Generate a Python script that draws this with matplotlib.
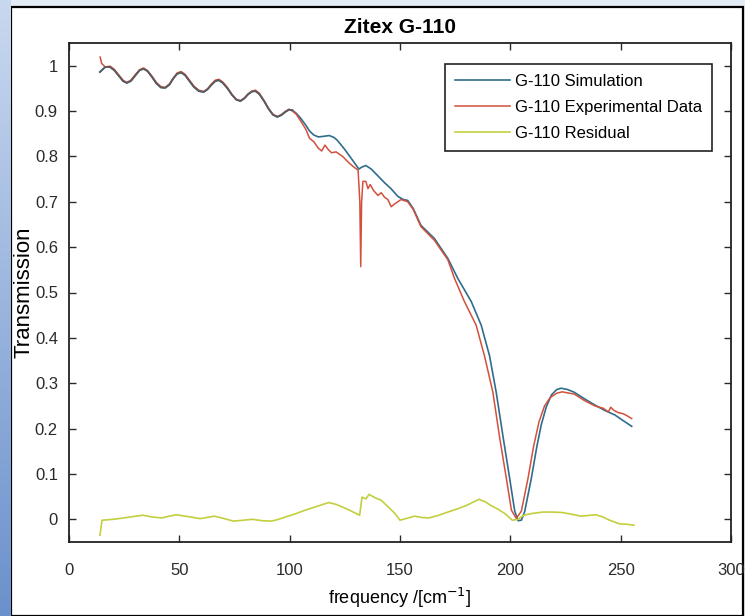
import numpy as np
import matplotlib.pyplot as plt
from matplotlib.patches import Rectangle
from matplotlib.colors import LinearSegmentedColormap

plt.rcParams['font.family'] = ['Liberation Sans', 'DejaVu Sans']

# ── Data ────────────────────────────────────────────────────────────────
sim_freq = [14.0, 16.4, 18.6, 20.5, 22.5, 24.5, 26.2, 28, 30, 32, 33.8, 35.6,
            37.6, 39.6, 41.6, 43.6, 45.5, 47.3, 49, 50.8, 52.6, 54.6, 56.6, 58.8,
            61, 62.8, 64.6, 66.3, 67.9, 69.7, 71.8, 73.8, 75.8, 77.7, 79.5, 81.2,
            82.9, 84.5, 86.3, 88.4, 90.4, 92.4, 94.4, 96.2, 98, 99.7, 101.2, 103,
            105, 107.3, 109, 111, 113, 115, 117.9, 120, 121.5, 124.7, 128, 131.4,
            132.5, 134.5, 137, 139.8, 143, 145.9, 149, 151.5, 153.5, 156, 159.5,
            165.6, 171.7, 176.2, 182.3, 186.8, 190.6, 193.6, 196.7, 199.7, 202,
            203.5, 205, 206.5, 209.5, 212, 214, 216.3, 218.6, 221, 223, 226, 229,
            233.5, 238.3, 242.8, 247.4, 251, 255]
sim_trans = [0.986, 0.997, 0.997, 0.99, 0.978, 0.966, 0.962, 0.966, 0.978, 0.99,
             0.993, 0.988, 0.975, 0.961, 0.952, 0.951, 0.958, 0.972, 0.982, 0.985,
             0.979, 0.966, 0.953, 0.944, 0.942, 0.948, 0.958, 0.966, 0.968, 0.962,
             0.95, 0.936, 0.925, 0.922, 0.928, 0.937, 0.943, 0.944, 0.937, 0.922,
             0.905, 0.892, 0.887, 0.891, 0.898, 0.903, 0.902, 0.895, 0.884, 0.869,
             0.856, 0.847, 0.843, 0.844, 0.846, 0.842, 0.836, 0.817, 0.795, 0.772,
             0.776, 0.78, 0.772, 0.758, 0.742, 0.729, 0.712, 0.705, 0.703, 0.685,
             0.648, 0.619, 0.575, 0.531, 0.48, 0.428, 0.36, 0.28, 0.182, 0.09,
             0.018, -0.003, -0.002, 0.017, 0.09, 0.16, 0.208, 0.248, 0.274, 0.286,
             0.289, 0.286, 0.28, 0.266, 0.252, 0.24, 0.23, 0.218, 0.205]

exp_freq = [14.1, 14.8, 16.4, 18.6, 20.5, 22.5, 24.5, 26.2, 28, 30, 32, 33.8,
            35.6, 37.6, 39.6, 41.6, 43.6, 45.5, 47.3, 49, 50.8, 52.6, 54.6, 56.6,
            58.8, 61, 62.8, 64.6, 66.3, 67.9, 69.7, 71.8, 73.8, 75.8, 77.7, 79.5,
            81.2, 82.9, 84.5, 86.3, 88.4, 90.4, 92.4, 94.4, 96.2, 98, 99.7, 101.2,
            103, 105, 107.3, 109, 111, 113, 114.5, 116, 117.5, 119, 121, 124, 127,
            129.5, 131, 131.8, 132.2, 132.6, 133.2, 134.5, 135.5, 136.5, 138, 140,
            141.5, 143, 144.5, 146, 147.5, 149, 150.5, 153.5, 156, 159.5, 165.6,
            171.7, 174.7, 179.2, 184.5, 188.3, 192.1, 195.1, 198.2, 200.5, 202.7,
            205, 208, 210.5, 213, 215.5, 218, 221, 223.5, 229, 233.5, 238.3, 242,
            244.4, 245.5, 247, 249, 251, 253, 255]
exp_trans = [1.019, 1.005, 0.997, 0.999, 0.992, 0.98, 0.968, 0.963, 0.968, 0.98,
             0.991, 0.995, 0.989, 0.977, 0.963, 0.954, 0.952, 0.96, 0.973, 0.984,
             0.987, 0.981, 0.968, 0.955, 0.946, 0.943, 0.949, 0.96, 0.968, 0.97,
             0.964, 0.952, 0.937, 0.926, 0.923, 0.929, 0.938, 0.944, 0.946, 0.939,
             0.923, 0.906, 0.893, 0.888, 0.892, 0.899, 0.904, 0.9, 0.893, 0.878,
             0.86, 0.84, 0.832, 0.818, 0.812, 0.825, 0.815, 0.808, 0.81, 0.8,
             0.785, 0.775, 0.77, 0.7, 0.557, 0.7, 0.745, 0.745, 0.729, 0.738,
             0.725, 0.714, 0.72, 0.71, 0.705, 0.689, 0.695, 0.7, 0.705, 0.7, 0.683,
             0.645, 0.615, 0.572, 0.531, 0.48, 0.428, 0.36, 0.28, 0.182, 0.09,
             0.02, 0.002, 0.018, 0.09, 0.16, 0.215, 0.25, 0.268, 0.278, 0.281,
             0.276, 0.262, 0.25, 0.245, 0.237, 0.247, 0.24, 0.235, 0.233, 0.228,
             0.222]

res_freq = [14, 15, 20, 24.8, 29, 33.5, 38, 42, 45.5, 48.6, 54, 59.4, 62.5, 65.9,
            70, 74.5, 79, 83, 87.5, 91.8, 95, 98, 102.5, 107, 112, 117.7, 121,
            124, 128, 131.7, 132.8, 134.5, 136, 138.5, 141.5, 144.7, 147.5, 150,
            153, 156.6, 160, 163, 167, 171.7, 176, 180.3, 185.7, 188.5, 191, 194.5,
            197.6, 200.9, 203.5, 206, 210, 214.8, 219, 223.5, 228, 232, 238.7,
            242, 245, 249.5, 253, 256]
res_trans = [-0.035, -0.002, 0.0, 0.003, 0.006, 0.009, 0.005, 0.003, 0.007, 0.01,
             0.006, 0.0015, 0.004, 0.007, 0.002, -0.004, -0.002, 0.0, -0.003,
             -0.004, 0.0, 0.005, 0.012, 0.02, 0.028, 0.037, 0.033, 0.027, 0.018,
             0.009, 0.049, 0.045, 0.055, 0.048, 0.042, 0.027, 0.014, -0.002, 0.002,
             0.007, 0.004, 0.003, 0.008, 0.016, 0.023, 0.031, 0.044, 0.039, 0.031,
             0.022, 0.0125, -0.002, 0.0, 0.009, 0.013, 0.016, 0.016, 0.015, 0.011,
             0.007, 0.01, 0.005, -0.002, -0.01, -0.011, -0.013]

labels = ["G-110 Simulation", "G-110 Experimental Data", "G-110 Residual"]
xticks = [0, 50, 100, 150, 200, 250, 300]
yticks = [0, 0.1, 0.2, 0.3, 0.4, 0.5, 0.6, 0.7, 0.8, 0.9, 1]

# ── Figure with slide-like frame ────────────────────────────────────────
fig = plt.figure(figsize=(7.45, 6.16), dpi=100, facecolor="#e3ebf5")
panel = Rectangle((11 / 745, 0), 732 / 745, 1 - 7 / 616,
                  transform=fig.transFigure, facecolor="white",
                  edgecolor="black", linewidth=1.6, zorder=-5)
fig.patches.append(panel)

strip = fig.add_axes([0, 0, 11 / 745, 1])
grad = np.linspace(0, 1, 256).reshape(-1, 1)
strip.imshow(grad, aspect="auto",
             cmap=LinearSegmentedColormap.from_list("slide", ["#c9d8ef", "#6b91cc"]),
             extent=[0, 1, 0, 1], origin="upper")
strip.set_axis_off()

ax = fig.add_axes([69 / 745, 1 - 542 / 616, 662 / 745, 499 / 616])
ax.set_facecolor("white")

l_sim, = ax.plot(sim_freq, sim_trans, color="#2f6d8c", linewidth=1.2)
l_exp, = ax.plot(exp_freq, exp_trans, color="#d2503c", linewidth=1.1)
l_res, = ax.plot(res_freq, res_trans, color="#c3cf3e", linewidth=1.2)
# overlap region looks grey in the reference
ax.plot(sim_freq[:47], sim_trans[:47], color="#4f5b60", linewidth=1.3, alpha=0.85)

ax.set_xlim(0, 300)
ax.set_ylim(-0.05, 1.05)
ax.set_xticks(xticks)
ax.set_yticks(yticks)
ax.set_xticklabels([str(t) for t in xticks])
ax.set_yticklabels([f"{t:g}" for t in yticks])
ax.tick_params(direction="in", length=5, width=1, top=True, right=True,
               labelsize=12, colors="#2a2a2a", pad=8)
ax.tick_params(axis="x", pad=15)
for sp in ax.spines.values():
    sp.set_linewidth(1.3)
    sp.set_color("#222222")

ax.set_title("Zitex G-110", fontsize=15, fontweight="bold", pad=7)
ax.set_xlabel("frequency /[cm$^{-1}$]", fontsize=13, labelpad=6)
ax.set_ylabel("Transmission", fontsize=16, labelpad=0)

leg = ax.legend([l_sim, l_exp, l_res], labels, loc="upper right",
                bbox_to_anchor=(0.971, 0.958), borderaxespad=0, fontsize=12,
                handlelength=3.3, handletextpad=0.3, labelspacing=0.65,
                fancybox=False, framealpha=1, edgecolor="#222222",
                borderpad=0.6)
leg.get_frame().set_linewidth(1.2)

fig.savefig("out.png", dpi=100, facecolor=fig.get_facecolor())
